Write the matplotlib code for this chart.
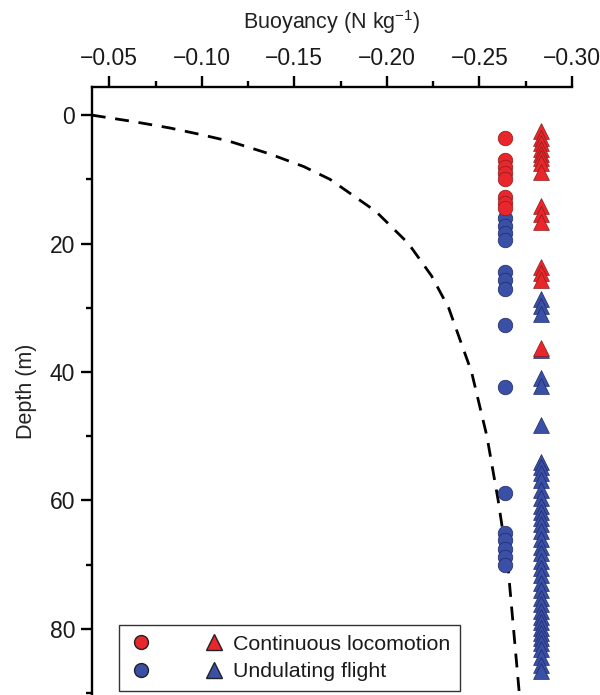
import matplotlib
matplotlib.use('Agg')
import matplotlib.pyplot as plt
from matplotlib.ticker import MultipleLocator
from matplotlib.lines import Line2D
from matplotlib.legend_handler import HandlerTuple

plt.rcParams['font.family'] = ['Liberation Sans', 'DejaVu Sans']
plt.rcParams['mathtext.fontset'] = 'custom'
plt.rcParams['mathtext.rm'] = 'Liberation Sans'

# x positions of the two marker columns (buoyancy)
circle_x = -0.264
triangle_x = -0.2835

# depths (m)
circle_red_depth = [3.6, 7.0, 8.1, 9.0, 9.9, 12.8, 13.7, 14.5]
circle_blue_depth = [16.0, 17.3, 18.4, 19.5, 24.4, 25.7, 27.0, 32.7, 42.4,
                     58.9, 65.0, 66.2, 67.5, 68.8, 70.0]
tri_red_depth = [2.5, 3.6, 4.4, 5.2, 6.0, 6.7, 7.5, 8.8, 14.2, 15.4, 16.6,
                 23.6, 24.6, 25.7, 36.2]
tri_blue_depth = [28.7, 29.7, 30.9, 36.6, 40.9, 42.2, 48.3, 54.0, 54.8, 55.8,
                  56.8, 58.3, 59.6, 60.8, 61.8, 62.8, 63.6, 64.8, 66.0, 67.2,
                  68.2, 69.4, 70.6, 71.6, 72.8, 74.0, 75.2, 76.2, 77.2, 78.2,
                  79.0, 79.8, 80.6, 81.4, 82.2, 83.2, 84.4, 85.6, 86.6]

# dashed buoyancy curve
curve_depth = [0, 1, 2, 3, 4, 6, 8, 10, 15, 20, 25, 30, 40, 50, 60, 70, 80, 90]
curve_buoy = [-0.0405, -0.0629, -0.0827, -0.099, -0.1141, -0.1363, -0.155,
              -0.1693, -0.1941, -0.2117, -0.2241, -0.2334, -0.2458, -0.2541,
              -0.2602, -0.2654, -0.2685, -0.2716]

red = '#e8262b'
red_edge = '#8a1c1c'
blue = '#3a50a6'
blue_edge = '#1e2a66'

fig = plt.figure(figsize=(6, 6.95), dpi=100)
ax = fig.add_axes([0.153, 0.0, 0.800, 0.875])

ax.plot(curve_buoy, curve_depth, color='black', lw=2.0, ls=(0, (5, 3.5)), zorder=2)

ax.scatter([circle_x] * len(circle_blue_depth), circle_blue_depth, s=110, marker='o',
           color=blue, edgecolor=blue_edge, linewidth=0.5, zorder=3)
ax.scatter([circle_x] * len(circle_red_depth), circle_red_depth, s=110, marker='o',
           color=red, edgecolor=red_edge, linewidth=0.5, zorder=3)
ax.scatter([triangle_x] * len(tri_blue_depth), tri_blue_depth, s=130, marker='^',
           color=blue, edgecolor=blue_edge, linewidth=0.5, zorder=3)
ax.scatter([triangle_x] * len(tri_red_depth), tri_red_depth, s=130, marker='^',
           color=red, edgecolor=red_edge, linewidth=0.5, zorder=4)

ax.set_xlim(-0.0405, -0.30)
ax.set_ylim(90.3, -4.4)

ax.xaxis.tick_top()
ax.xaxis.set_label_position('top')
ax.xaxis.set_major_locator(MultipleLocator(0.05))
ax.xaxis.set_minor_locator(MultipleLocator(0.025))
ax.yaxis.set_major_locator(MultipleLocator(20))
ax.yaxis.set_minor_locator(MultipleLocator(10))
ax.xaxis.set_major_formatter(plt.FuncFormatter(lambda v, p: f"{v:.2f}".replace('-', '\u2212')))

ax.spines['right'].set_visible(False)
ax.spines['bottom'].set_visible(False)
ax.spines['top'].set_linewidth(1.7)
ax.spines['left'].set_linewidth(1.7)
ax.tick_params(which='major', direction='out', length=8, width=1.7, labelsize=16.5,
               labelcolor='#1a1a1a', pad=4)
ax.tick_params(which='minor', direction='out', length=4.5, width=1.7)

ax.set_xlabel(r'Buoyancy (N kg$^{\mathregular{-1}}$)', fontsize=15.5, labelpad=13, color='#222222')
ax.set_ylabel('Depth (m)', fontsize=15.5, labelpad=9, color='#222222')

h1 = (Line2D([], [], marker='o', ls='', color=red, mec='#222222', mew=1.0, ms=10),
      Line2D([], [], marker='^', ls='', color=red, mec='#222222', mew=1.0, ms=11))
h2 = (Line2D([], [], marker='o', ls='', color=blue, mec='#222222', mew=1.0, ms=10),
      Line2D([], [], marker='^', ls='', color=blue, mec='#222222', mew=1.0, ms=11))
leg = ax.legend([h1, h2], ['Continuous locomotion', 'Undulating flight'],
                handler_map={tuple: HandlerTuple(ndivide=None, pad=2.2)},
                loc='lower left', bbox_to_anchor=(0.056, 0.007), borderaxespad=0,
                fontsize=15.4, handlelength=4.6, handletextpad=0.3, borderpad=0.45,
                labelspacing=0.4, fancybox=False, framealpha=1)
leg.get_frame().set_edgecolor('#333333')
leg.get_frame().set_linewidth(1.0)
for t in leg.get_texts():
    t.set_color('#1a1a1a')

plt.savefig('out.png', dpi=100)
plt.close()
